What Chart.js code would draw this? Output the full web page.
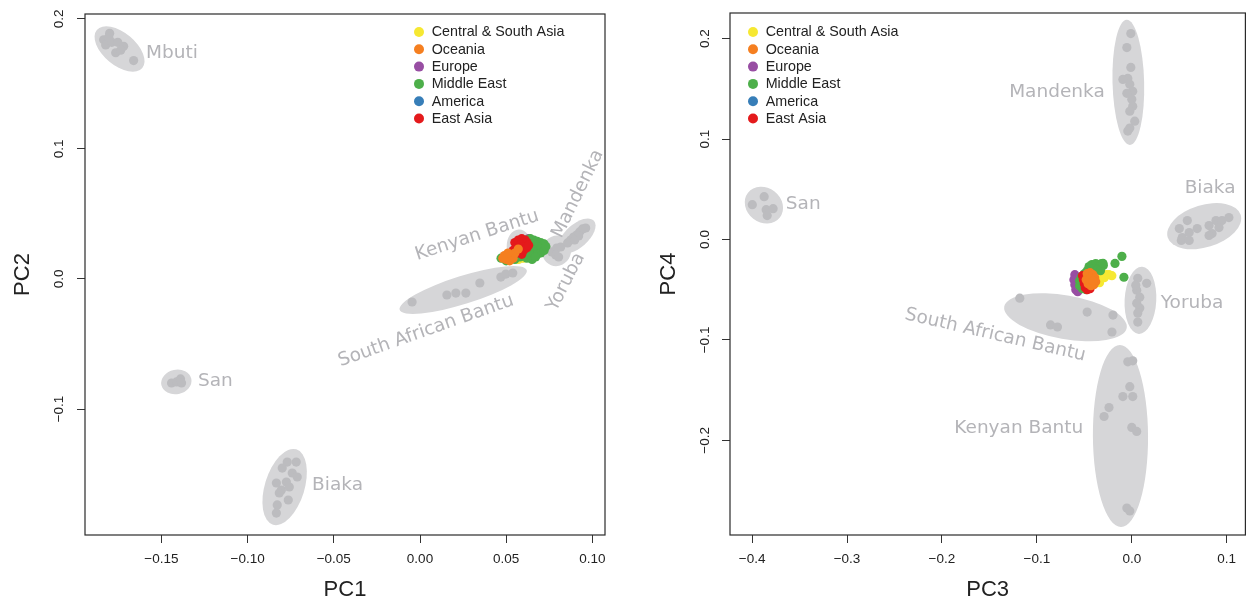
<!DOCTYPE html>
<html>
<head>
<meta charset="utf-8">
<script src="https://cdn.jsdelivr.net/npm/chart.js@4.4.1/dist/chart.umd.min.js"></script>
<style>
  html, body { margin: 0; padding: 0; background: #ffffff; }
  #wrap { position: relative; width: 1250px; height: 603px; overflow: hidden; }
  canvas { position: absolute; top: 0; }
  #pc12 { left: 0; }
  #pc34 { left: 625px; }
</style>
</head>
<body>
<div id="wrap">
  <canvas id="pc12" width="625" height="603"></canvas>
  <canvas id="pc34" width="625" height="603"></canvas>
</div>
<script>
// ---------------------------------------------------------------------------
// Data: principal component scores, [PC_a, PC_b] per individual
// ---------------------------------------------------------------------------
const regionNames = ['Central & South Asia', 'Oceania', 'Europe', 'Middle East', 'America', 'East Asia'];

// PC1 / PC2 -- non-African regions
const pc12CentralSouthAsia = [[0.058, 0.017], [0.060, 0.016], [0.057, 0.015], [0.059, 0.018]];
const pc12Oceania = [[0.049, 0.018], [0.051, 0.017], [0.053, 0.018], [0.050, 0.015], [0.052, 0.014],
  [0.054, 0.016], [0.048, 0.016], [0.055, 0.020], [0.057, 0.023], [0.051, 0.020]];
const pc12Europe = [[0.062, 0.029], [0.063, 0.031], [0.064, 0.028], [0.061, 0.027]];
const pc12MiddleEast = [[0.062, 0.030], [0.064, 0.031], [0.066, 0.030], [0.068, 0.029], [0.070, 0.028],
  [0.072, 0.027], [0.066, 0.027], [0.068, 0.025], [0.070, 0.023], [0.064, 0.024], [0.066, 0.021],
  [0.068, 0.019], [0.070, 0.020], [0.072, 0.022], [0.064, 0.018], [0.062, 0.016], [0.065, 0.015],
  [0.060, 0.020], [0.058, 0.017], [0.073, 0.025], [0.061, 0.025], [0.063, 0.021], [0.067, 0.017],
  [0.047, 0.016], [0.050, 0.014], [0.055, 0.015]];
const pc12America = [[0.061, 0.029], [0.060, 0.027], [0.062, 0.026]];
const pc12EastAsia = [[0.055, 0.028], [0.057, 0.030], [0.059, 0.031], [0.061, 0.030], [0.062, 0.028],
  [0.058, 0.026], [0.060, 0.025], [0.056, 0.024], [0.054, 0.022], [0.057, 0.021], [0.060, 0.022],
  [0.062, 0.024], [0.063, 0.026], [0.059, 0.019], [0.056, 0.020]];

// PC1 / PC2 -- African populations
const pc12Mbuti = [[-0.180, 0.189], [-0.1835, 0.184], [-0.1823, 0.180], [-0.1788, 0.182], [-0.1753, 0.182],
  [-0.1719, 0.179], [-0.1765, 0.174], [-0.1736, 0.176], [-0.1661, 0.168], [-0.1805, 0.186]];
const pc12San = [[-0.1441, -0.080], [-0.1412, -0.0792], [-0.1389, -0.0769], [-0.1383, -0.080]];
const pc12Biaka = [[-0.0770, -0.1408], [-0.0718, -0.1408], [-0.0799, -0.1454], [-0.0741, -0.1492],
  [-0.0712, -0.1523], [-0.0833, -0.1569], [-0.0775, -0.1562], [-0.0804, -0.1623], [-0.0758, -0.1600],
  [-0.0816, -0.1646], [-0.0764, -0.1700], [-0.0828, -0.1738], [-0.0833, -0.1800]];
const pc12SouthAfricanBantu = [[-0.0046, -0.0177], [0.0156, -0.0123], [0.0208, -0.0108], [0.0266, -0.0108],
  [0.0347, -0.0031], [0.0469, 0.0015], [0.0498, 0.0038], [0.0538, 0.0046]];
const pc12KenyanBantu = [[0.0561, 0.0285], [0.0584, 0.0300], [0.0573, 0.0246], [0.0590, 0.0223],
  [0.0567, 0.0200], [0.0579, 0.0215]];
const pc12Mandenka = [[0.0856, 0.0277], [0.0874, 0.0300], [0.0891, 0.0323], [0.0909, 0.0338], [0.0926, 0.0362],
  [0.0943, 0.0385], [0.0961, 0.0392], [0.0920, 0.0331], [0.0897, 0.0300]];
const pc12Yoruba = [[0.0764, 0.0208], [0.0793, 0.0238], [0.0816, 0.0246], [0.0787, 0.0185], [0.0804, 0.0169]];

// PC3 / PC4 -- non-African regions
const pc34CentralSouthAsia = [[-0.036, -0.041], [-0.033, -0.038], [-0.030, -0.036], [-0.027, -0.035],
  [-0.024, -0.035], [-0.021, -0.036], [-0.034, -0.043], [-0.029, -0.038]];
const pc34Oceania = [[-0.047, -0.034], [-0.044, -0.033], [-0.041, -0.035], [-0.039, -0.038], [-0.038, -0.042],
  [-0.040, -0.045], [-0.043, -0.046], [-0.046, -0.044], [-0.048, -0.040], [-0.044, -0.039], [-0.041, -0.041]];
const pc34Europe = [[-0.060, -0.035], [-0.061, -0.040], [-0.060, -0.045], [-0.059, -0.050], [-0.057, -0.052],
  [-0.058, -0.038], [-0.056, -0.047], [-0.055, -0.042]];
const pc34MiddleEast = [[-0.045, -0.027], [-0.042, -0.025], [-0.038, -0.024], [-0.035, -0.026], [-0.032, -0.024],
  [-0.030, -0.026], [-0.040, -0.029], [-0.047, -0.031], [-0.050, -0.034], [-0.053, -0.037], [-0.055, -0.041],
  [-0.055, -0.046], [-0.052, -0.049], [-0.048, -0.050], [-0.036, -0.030], [-0.033, -0.031], [-0.044, -0.033],
  [-0.0104, -0.0168], [-0.0177, -0.0238], [-0.0083, -0.0376], [-0.0303, -0.0238]];
const pc34America = [[-0.049, -0.042], [-0.047, -0.039]];
const pc34EastAsia = [[-0.052, -0.036], [-0.051, -0.040], [-0.050, -0.044], [-0.049, -0.048], [-0.047, -0.050],
  [-0.046, -0.046], [-0.048, -0.041], [-0.045, -0.037], [-0.044, -0.049], [-0.050, -0.038]];

// PC3 / PC4 -- African populations
const pc34San = [[-0.3998, 0.0347], [-0.3873, 0.0426], [-0.3852, 0.0297], [-0.3779, 0.0307], [-0.3841, 0.0238]];
const pc34Mandenka = [[-0.0010, 0.2050], [-0.0052, 0.1911], [-0.0010, 0.1713], [-0.0042, 0.1604], [-0.0094, 0.1594],
  [-0.0021, 0.1545], [0.0010, 0.1475], [-0.0052, 0.1455], [0.0000, 0.1396], [0.0010, 0.1327], [-0.0021, 0.1277],
  [0.0031, 0.1178], [-0.0021, 0.1109], [-0.0042, 0.1079]];
const pc34Biaka = [[0.0501, 0.0109], [0.0532, 0.0020], [0.0585, 0.0188], [0.0605, 0.0069], [0.0689, 0.0109],
  [0.0814, 0.0139], [0.0846, 0.0059], [0.0887, 0.0188], [0.0950, 0.0188], [0.1023, 0.0218], [0.0919, 0.0119],
  [0.0814, 0.0040], [0.0522, -0.0010], [0.0605, -0.0010]];
const pc34Yoruba = [[0.0063, -0.0386], [0.0157, -0.0436], [0.0052, -0.0505], [0.0084, -0.0574], [0.0052, -0.0634],
  [0.0084, -0.0683], [0.0063, -0.0733], [0.0063, -0.0822], [0.0042, -0.0455]];
const pc34SouthAfricanBantu = [[-0.1180, -0.0584], [-0.0856, -0.0851], [-0.0783, -0.0871], [-0.0470, -0.0723],
  [-0.0198, -0.0752], [-0.0209, -0.0921]];
const pc34KenyanBantu = [[-0.0042, -0.1218], [0.0010, -0.1208], [-0.0021, -0.1465], [-0.0094, -0.1564],
  [0.0010, -0.1564], [-0.0240, -0.1673], [-0.0292, -0.1762], [0.0000, -0.1871], [0.0052, -0.1911],
  [-0.0052, -0.2673], [-0.0021, -0.2703]];

// Axis ticks
const pc1Ticks = [-0.15, -0.10, -0.05, 0.00, 0.05, 0.10];
const pc2Ticks = [-0.1, 0.0, 0.1, 0.2];
const pc3Ticks = [-0.4, -0.3, -0.2, -0.1, 0.0, 0.1];
const pc4Ticks = [-0.2, -0.1, 0.0, 0.1, 0.2];

// ---------------------------------------------------------------------------
// Styling
// ---------------------------------------------------------------------------
const AXIS_FONT = '"Liberation Sans", Arial, Helvetica, sans-serif';
const GROUP_FONT = '"DejaVu Sans", Verdana, sans-serif';
const INK = '#222222';
const GRAY_POINT = '#bcbcbf';
const GRAY_HULL = '#d6d6d8';
const GRAY_TEXT = '#b4b4b8';
const POINT_R = 4.6;

const regionColors = {
  'Central & South Asia': '#f6e832',
  'Oceania': '#f57f20',
  'Europe': '#984ea3',
  'Middle East': '#4daf4a',
  'America': '#377eb8',
  'East Asia': '#e41a1c'
};
// lower number is painted on top
const paintOrder = ['Oceania', 'East Asia', 'Middle East', 'Central & South Asia', 'America', 'Europe'];

function fmtTick(v, digits) {
  const r = Number(v.toFixed(digits));
  const s = Math.abs(r).toFixed(digits);
  return r < 0 ? '\u2212' + s : s;
}

function toXY(pts) { return pts.map(([x, y]) => ({ x, y })); }

function regionSet(name, pts) {
  return {
    label: name, data: toXY(pts), region: true,
    backgroundColor: regionColors[name], borderWidth: 0,
    pointRadius: POINT_R, pointHoverRadius: POINT_R, order: paintOrder.indexOf(name)
  };
}
function groupSet(name, pts) {
  return {
    label: name, data: toXY(pts), enclose: true,
    backgroundColor: GRAY_POINT, borderWidth: 0,
    pointRadius: POINT_R, pointHoverRadius: POINT_R, order: 20
  };
}

// ---------------------------------------------------------------------------
// Plugins
// ---------------------------------------------------------------------------
// Shaded ellipse behind each African population, fitted to its plotted points
const enclosurePlugin = {
  id: 'enclosures',
  beforeDatasetsDraw(chart, args, opts) {
    const { ctx, chartArea: ca } = chart;
    ctx.save();
    ctx.beginPath(); ctx.rect(ca.left, ca.top, ca.width, ca.height); ctx.clip();
    ctx.fillStyle = opts.color;
    chart.data.datasets.forEach((ds, i) => {
      if (!ds.enclose) return;
      const pts = chart.getDatasetMeta(i).data.map(e => ({ x: e.x, y: e.y }));
      const n = pts.length;
      let mx = 0, my = 0;
      pts.forEach(p => { mx += p.x; my += p.y; });
      mx /= n; my /= n;
      let sxx = 0, syy = 0, sxy = 0;
      pts.forEach(p => { const dx = p.x - mx, dy = p.y - my; sxx += dx * dx; syy += dy * dy; sxy += dx * dy; });
      const th = 0.5 * Math.atan2(2 * sxy, sxx - syy);
      const c = Math.cos(th), s = Math.sin(th);
      let u0 = Infinity, u1 = -Infinity, v0 = Infinity, v1 = -Infinity;
      pts.forEach(p => {
        const u = p.x * c + p.y * s, v = -p.x * s + p.y * c;
        u0 = Math.min(u0, u); u1 = Math.max(u1, u); v0 = Math.min(v0, v); v1 = Math.max(v1, v);
      });
      const uc = (u0 + u1) / 2, vc = (v0 + v1) / 2;
      const cx = uc * c - vc * s, cy = uc * s + vc * c;
      const a = (u1 - u0) / 2 * opts.grow + opts.pad;
      const b = (v1 - v0) / 2 * opts.grow + opts.pad;
      ctx.beginPath();
      ctx.ellipse(cx, cy, a, b, th, 0, Math.PI * 2);
      ctx.fill();
    });
    ctx.restore();
  }
};

// Population names placed in data coordinates
const groupLabelPlugin = {
  id: 'groupLabels',
  afterDatasetsDraw(chart, args, opts) {
    const { ctx, scales: { x, y } } = chart;
    ctx.save();
    ctx.fillStyle = opts.color;
    ctx.font = opts.font;
    ctx.textBaseline = 'middle';
    opts.items.forEach(it => {
      ctx.save();
      ctx.translate(x.getPixelForValue(it.x), y.getPixelForValue(it.y));
      ctx.rotate((it.angle || 0) * Math.PI / 180);
      ctx.textAlign = it.align || 'left';
      ctx.fillText(it.text, 0, 0);
      ctx.restore();
    });
    ctx.restore();
  }
};

// Region key drawn inside the plotting box
const keyPlugin = {
  id: 'regionKey',
  afterDraw(chart, args, opts) {
    const { ctx, chartArea: ca } = chart;
    const byName = {};
    chart.data.datasets.forEach(ds => { if (ds.region) byName[ds.label] = ds; });
    ctx.save();
    ctx.font = opts.font;
    ctx.textAlign = 'left';
    ctx.textBaseline = 'middle';
    regionNames.forEach((name, i) => {
      const ds = byName[name];
      const cx = ca.left + opts.dx, cy = ca.top + opts.dy + i * opts.step;
      ctx.fillStyle = ds.backgroundColor;
      ctx.beginPath(); ctx.arc(cx, cy, opts.r, 0, Math.PI * 2); ctx.fill();
      ctx.fillStyle = INK;
      ctx.fillText(ds.label, cx + opts.gap, cy + 0.5);
    });
    ctx.restore();
  }
};

// Box around the plotting region and vertical-axis labels set on their side
const framePlugin = {
  id: 'frame',
  afterDraw(chart, args, opts) {
    const { ctx, chartArea: ca, scales: { y } } = chart;
    ctx.save();
    ctx.strokeStyle = '#2a2a2a';
    ctx.lineWidth = 1.2;
    ctx.strokeRect(ca.left, ca.top, ca.right - ca.left, ca.bottom - ca.top);
    ctx.fillStyle = INK;
    ctx.font = opts.font;
    ctx.textAlign = 'center';
    ctx.textBaseline = 'middle';
    y.ticks.forEach(t => {
      ctx.save();
      ctx.translate(ca.left - opts.labelOffset, y.getPixelForValue(t.value));
      ctx.rotate(-Math.PI / 2);
      ctx.fillText(fmtTick(t.value, opts.digits), 0, 0);
      ctx.restore();
    });
    ctx.restore();
  }
};

// ---------------------------------------------------------------------------
// Chart factory
// ---------------------------------------------------------------------------
function pcaChart(canvasId, p) {
  const datasets = [];
  regionNames.forEach(name => datasets.push(regionSet(name, p.regions[name])));
  Object.keys(p.groups).forEach(name => datasets.push(groupSet(name, p.groups[name])));

  return new Chart(document.getElementById(canvasId), {
    type: 'scatter',
    data: { datasets },
    plugins: [enclosurePlugin, groupLabelPlugin, keyPlugin, framePlugin],
    options: {
      responsive: false,
      animation: false,
      events: [],
      layout: { padding: { top: p.padTop, right: p.padRight, left: 0, bottom: 0 } },
      plugins: {
        legend: { display: false },
        tooltip: { enabled: false },
        enclosures: { color: GRAY_HULL, pad: 10, grow: 1.08 },
        groupLabels: { color: GRAY_TEXT, font: '18.5px ' + GROUP_FONT, items: p.labels },
        regionKey: { font: '14.3px ' + AXIS_FONT, dx: p.keyDx, dy: p.keyDy, step: 17.3, r: 5, gap: 12.7 },
        frame: { font: '13.5px ' + AXIS_FONT, labelOffset: p.yLabelOffset, digits: p.yDigits }
      },
      scales: {
        x: {
          type: 'linear', position: 'bottom',
          min: p.xMin, max: p.xMax,
          afterBuildTicks: s => { s.ticks = p.xTicks.map(v => ({ value: v })); },
          afterFit: s => { s.height = 68; },
          border: { display: false },
          grid: { drawOnChartArea: false, drawTicks: true, tickLength: 8, color: '#333333', lineWidth: 1 },
          ticks: {
            autoSkip: false, maxRotation: 0, minRotation: 0, padding: 8, color: INK,
            font: { family: AXIS_FONT, size: 13.5 },
            callback: v => fmtTick(v, p.xDigits)
          },
          title: { display: true, text: p.xTitle, color: INK, font: { family: AXIS_FONT, size: 22 }, padding: { top: 0, bottom: 0 } }
        },
        y: {
          type: 'linear', position: 'left',
          min: p.yMin, max: p.yMax,
          afterBuildTicks: s => { s.ticks = p.yTicks.map(v => ({ value: v })); },
          afterFit: s => { s.width = p.yAxisWidth; },
          border: { display: false },
          grid: { drawOnChartArea: false, drawTicks: true, tickLength: 8, color: '#333333', lineWidth: 1 },
          ticks: { autoSkip: false, padding: 4, color: INK, font: { family: AXIS_FONT, size: 13.5 }, callback: () => '' },
          title: { display: true, text: p.yTitle, color: INK, font: { family: AXIS_FONT, size: 22 }, padding: { top: p.yTitlePad, bottom: 0 } }
        }
      }
    }
  });
}

// ---------------------------------------------------------------------------
// PC1 vs PC2
// ---------------------------------------------------------------------------
pcaChart('pc12', {
  regions: {
    'Central & South Asia': pc12CentralSouthAsia, 'Oceania': pc12Oceania, 'Europe': pc12Europe,
    'Middle East': pc12MiddleEast, 'America': pc12America, 'East Asia': pc12EastAsia
  },
  groups: {
    'Mbuti': pc12Mbuti, 'San': pc12San, 'Biaka': pc12Biaka, 'South African Bantu': pc12SouthAfricanBantu,
    'Kenyan Bantu': pc12KenyanBantu, 'Mandenka': pc12Mandenka, 'Yoruba': pc12Yoruba
  },
  labels: [
    { text: 'Mbuti', x: -0.1589, y: 0.1738 },
    { text: 'San', x: -0.1288, y: -0.0785 },
    { text: 'Biaka', x: -0.0626, y: -0.1585 },
    { text: 'Kenyan Bantu', x: 0.0331, y: 0.0335, angle: -18, align: 'center' },
    { text: 'South African Bantu', x: 0.0035, y: -0.0400, angle: -19.5, align: 'center' },
    { text: 'Mandenka', x: 0.0916, y: 0.0654, angle: -64, align: 'center' },
    { text: 'Yoruba', x: 0.0847, y: -0.0023, angle: -63, align: 'center' }
  ],
  xMin: -0.1943, xMax: 0.1073, yMin: -0.1969, yMax: 0.2038,
  xTicks: pc1Ticks, yTicks: pc2Ticks, xDigits: 2, yDigits: 1,
  xTitle: 'PC1', yTitle: 'PC2',
  padTop: 14, padRight: 20, yAxisWidth: 85, yTitlePad: 10, yLabelOffset: 26,
  keyDx: 334, keyDy: 18
});

// ---------------------------------------------------------------------------
// PC3 vs PC4
// ---------------------------------------------------------------------------
pcaChart('pc34', {
  regions: {
    'Central & South Asia': pc34CentralSouthAsia, 'Oceania': pc34Oceania, 'Europe': pc34Europe,
    'Middle East': pc34MiddleEast, 'America': pc34America, 'East Asia': pc34EastAsia
  },
  groups: {
    'San': pc34San, 'Mandenka': pc34Mandenka, 'Biaka': pc34Biaka, 'Yoruba': pc34Yoruba,
    'South African Bantu': pc34SouthAfricanBantu, 'Kenyan Bantu': pc34KenyanBantu
  },
  labels: [
    { text: 'Mandenka', x: -0.1292, y: 0.1469 },
    { text: 'San', x: -0.3645, y: 0.0351 },
    { text: 'Biaka', x: 0.0557, y: 0.0510 },
    { text: 'Yoruba', x: 0.0305, y: -0.0634 },
    { text: 'South African Bantu', x: -0.1439, y: -0.0952, angle: 13, align: 'center' },
    { text: 'Kenyan Bantu', x: -0.1870, y: -0.1878 }
  ],
  xMin: -0.4233, xMax: 0.1197, yMin: -0.2942, yMax: 0.2255,
  xTicks: pc3Ticks, yTicks: pc4Ticks, xDigits: 1, yDigits: 1,
  xTitle: 'PC3', yTitle: 'PC4',
  padTop: 13, padRight: 3, yAxisWidth: 105, yTitlePad: 31, yLabelOffset: 25,
  keyDx: 23, keyDy: 19
});
</script>
</body>
</html>
